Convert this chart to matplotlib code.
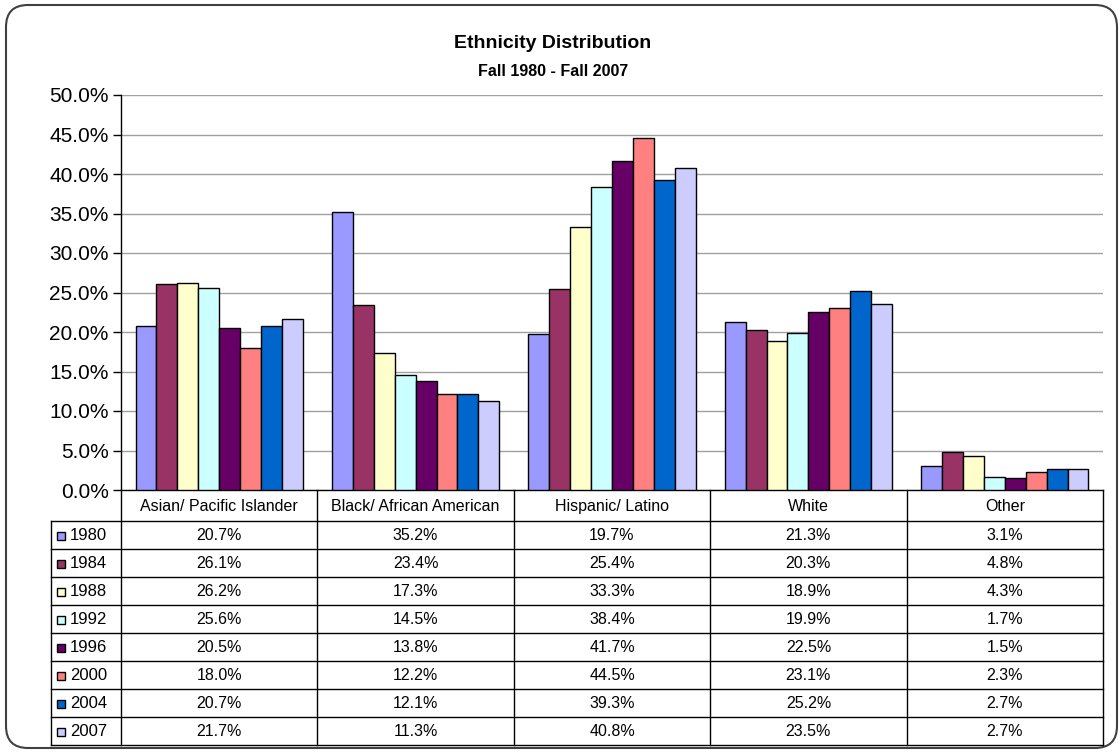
import matplotlib
matplotlib.use("Agg")
import matplotlib.pyplot as plt
from matplotlib.patches import FancyBboxPatch, Rectangle
from matplotlib.ticker import FuncFormatter, MultipleLocator

plt.rcParams['font.family'] = ['Liberation Sans', 'DejaVu Sans']

# ---------------- data ----------------
categories = ['Asian/ Pacific Islander', 'Black/ African American',
              'Hispanic/ Latino', 'White', 'Other']
years = ['1980', '1984', '1988', '1992', '1996', '2000', '2004', '2007']
v1980 = [20.7, 35.2, 19.7, 21.3, 3.1]
v1984 = [26.1, 23.4, 25.4, 20.3, 4.8]
v1988 = [26.2, 17.3, 33.3, 18.9, 4.3]
v1992 = [25.6, 14.5, 38.4, 19.9, 1.7]
v1996 = [20.5, 13.8, 41.7, 22.5, 1.5]
v2000 = [18.0, 12.2, 44.5, 23.1, 2.3]
v2004 = [20.7, 12.1, 39.3, 25.2, 2.7]
v2007 = [21.7, 11.3, 40.8, 23.5, 2.7]
series = [v1980, v1984, v1988, v1992, v1996, v2000, v2004, v2007]
colors = ['#9999FF', '#993366', '#FFFFCC', '#CCFFFF',
          '#660066', '#FF8080', '#0066CC', '#CCCCFF']
title = 'Ethnicity Distribution'
subtitle = 'Fall 1980 - Fall 2007'

# ---------------- figure ----------------
W, H = 1120, 755
fig = plt.figure(figsize=(W / 100, H / 100), dpi=100)

# overlay axes in pixel coordinates (for border and data table)
ov = fig.add_axes([0, 0, 1, 1])
ov.set_xlim(0, W)
ov.set_ylim(H, 0)
ov.axis('off')

border = FancyBboxPatch((6, 5), 1111, 743, boxstyle="round,pad=0,rounding_size=22",
                        fc='white', ec='#404040', lw=1.5, zorder=0)
ov.add_patch(border)

# plot area
x0, x1 = 121, 1103
ytop, ybot = 95, 490
ax = fig.add_axes([x0 / W, (H - ybot) / H, (x1 - x0) / W, (ybot - ytop) / H])
ax.set_facecolor('none')
n = len(years)
bw = 0.1065
for i, (vals, c) in enumerate(zip(series, colors)):
    xs = [k + 0.5 + (i - (n - 1) / 2) * bw for k in range(len(categories))]
    ax.bar(xs, vals, width=bw, color=c, edgecolor='black', linewidth=1.0, zorder=3)

ax.set_xlim(0, len(categories))
ax.set_ylim(0, 50)
ax.yaxis.set_major_locator(MultipleLocator(5))
ax.yaxis.set_major_formatter(FuncFormatter(lambda v, p: f'{v:.1f}%'))
ax.grid(axis='y', color='#A0A0A0', lw=1.0, zorder=0)
ax.set_xticks([])
for s in ['top', 'right', 'bottom']:
    ax.spines[s].set_visible(False)
ax.spines['left'].set_color('black')
ax.spines['left'].set_linewidth(1.0)
ax.tick_params(axis='y', length=6, width=1, labelsize=15, pad=3, colors='black')

# titles
fig.text(553 / W, 1 - 43 / H, title, ha='center', va='center', fontsize=14,
         fontweight='bold')
fig.text(553 / W, 1 - 72 / H, subtitle, ha='center', va='center', fontsize=11.5,
         fontweight='bold')

# ---------------- data table ----------------
lx = 51
head_top, head_bot = 490, 521
row_h = (745 - 521) / n
col_w = (x1 - x0) / len(categories)
lw = 1.0
# horizontal lines
ov.plot([x0, x1], [head_top, head_top], color='black', lw=lw, zorder=5)
for r in range(n + 1):
    y = head_bot + r * row_h
    ov.plot([lx, x1], [y, y], color='black', lw=lw, zorder=5)
# vertical lines
ov.plot([lx, lx], [head_bot, head_bot + n * row_h], color='black', lw=lw, zorder=5)
for c in range(len(categories) + 1):
    xx = x0 + c * col_w
    ov.plot([xx, xx], [head_top, head_bot + n * row_h], color='black', lw=lw, zorder=5)

# headers
for c, name in enumerate(categories):
    ov.text(x0 + (c + 0.5) * col_w, (head_top + head_bot) / 2 + 1, name,
            ha='center', va='center', fontsize=11.5, zorder=6)

# rows
for r, (yr, vals, colr) in enumerate(zip(years, series, colors)):
    yc = head_bot + (r + 0.5) * row_h + 1
    ov.add_patch(Rectangle((57, yc - 4), 8, 8, fc=colr, ec='black', lw=1.0, zorder=6))
    ov.text(70, yc, yr, ha='left', va='center', fontsize=12, zorder=6)
    for c, v in enumerate(vals):
        ov.text(x0 + (c + 0.5) * col_w, yc, f'{v:.1f}%', ha='center', va='center',
                fontsize=11.5, zorder=6)

fig.savefig('out.png', dpi=100)
